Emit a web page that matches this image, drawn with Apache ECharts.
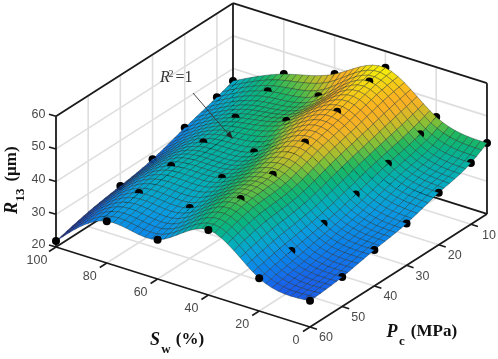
<!DOCTYPE html>
<html><head><meta charset="utf-8">
<script src="https://cdn.jsdelivr.net/npm/echarts@6/dist/echarts.min.js"></script>
<style>html,body{margin:0;padding:0;background:#fff}#c{width:498px;height:359px}</style>
</head><body><div id="c"></div>
<script>
const swLevels = [0, 20, 40, 60, 80, 100];
const pcLevels = [5, 10, 20, 30, 40, 50, 60];
const r13AtPc5  = [41.7, 44.8, 54.9, 48.1, 43.2, 36.2];
const r13AtPc10 = [38.7, 42.6, 53.9, 44.5, 41.1, 34.4];
const r13AtPc20 = [35.9, 39.9, 50.9, 43.2, 39.3, 31.3];
const r13AtPc30 = [32.8, 36.8, 47.8, 39.9, 38.0, 28.0];
const r13AtPc40 = [31.0, 34.1, 44.2, 38.3, 37.1, 26.1];
const r13AtPc50 = [29.0, 32.1, 43.1, 35.4, 35.1, 24.4];
const r13AtPc60 = [28.0, 30.0, 39.9, 32.0, 32.8, 21.8];
const swTicks = [0, 20, 40, 60, 80, 100];
const pcTicks = [10, 20, 30, 40, 50, 60];
const zTicks = [20, 30, 40, 50, 60];
const colorStops = [[21,'#1a1a8c'],[25,'#1c3cc8'],[28,'#1a60ea'],[31,'#0c80ea'],[34,'#0a9ce0'],[37,'#02aebc'],[40,'#08b484'],[42,'#22b85e'],[44,'#80c038'],[46,'#c8bc28'],[48,'#f0b424'],[50,'#fbb022'],[52,'#f6c21a'],[54,'#f2e010'],[56,'#ffff00']];

const rows = [r13AtPc5, r13AtPc10, r13AtPc20, r13AtPc30, r13AtPc40, r13AtPc50, r13AtPc60];
const SW_CELLS = 40, PC_CELLS = 33;

// orthographic view of the 3D box
function proj(sw, pc, z) {
  return [310 - 2.54 * sw + 3.218 * (60 - pc),
          327 - 0.8 * sw - 2.055 * (60 - pc) - 3.27 * (z - 20)];
}
// natural cubic spline through the measured points, to draw the smooth fitted surface
function splineFn(xs, ys) {
  const n = xs.length, m = new Array(n).fill(0), c = new Array(n).fill(0), d = new Array(n).fill(0);
  for (let i = 1; i < n - 1; i++) {
    const h0 = xs[i] - xs[i-1], h1 = xs[i+1] - xs[i];
    const b = 2 * (h0 + h1), r = 6 * ((ys[i+1]-ys[i])/h1 - (ys[i]-ys[i-1])/h0);
    const w = b - h0 * c[i-1];
    c[i] = h1 / w; d[i] = (r - h0 * d[i-1]) / w;
  }
  for (let i = n - 2; i > 0; i--) m[i] = d[i] - c[i] * m[i+1];
  return x => {
    let i = 0; while (i < n - 2 && x > xs[i+1]) i++;
    const h = xs[i+1] - xs[i], a = (xs[i+1]-x)/h, b = (x-xs[i])/h;
    return a*ys[i] + b*ys[i+1] + ((a*a*a-a)*m[i] + (b*b*b-b)*m[i+1])*h*h/6;
  };
}
const rowFns = rows.map(r => splineFn(swLevels, r));
function surfaceColumn(sw) { return splineFn(pcLevels, rowFns.map(f => f(sw))); }
function hex(c){return [1,3,5].map(i=>parseInt(c.substr(i,2),16));}
function colorOf(z) {
  if (z <= colorStops[0][0]) return colorStops[0][1];
  for (let i = 1; i < colorStops.length; i++) if (z <= colorStops[i][0]) {
    const t = (z-colorStops[i-1][0])/(colorStops[i][0]-colorStops[i-1][0]);
    const a = hex(colorStops[i-1][1]), b = hex(colorStops[i][1]);
    return 'rgb('+a.map((v,k)=>Math.round(v+(b[k]-v)*t)).join(',')+')';
  }
  return colorStops[colorStops.length-1][1];
}

const scene = [];
const AX = '#1a1a1a', GRID = '#dedede', TICKTXT = '#4a4a4a';
const line = (p, q, stroke, w) => scene.push({k:'line', p, q, stroke, w});
const text = (x, y, t, font, fill, o) => scene.push(Object.assign({k:'text', x, y, t, font, fill}, o||{}));

// grids on floor and two back walls
swTicks.filter(s=>s>0&&s<100).forEach(s => {
  line(proj(s,60,20), proj(s,5,20), GRID, 1.6);
  line(proj(s,5,20), proj(s,5,60), GRID, 1.6);
});
pcTicks.filter(p=>p<60).forEach(p => {
  line(proj(0,p,20), proj(100,p,20), GRID, 1.6);
  line(proj(100,p,20), proj(100,p,60), GRID, 1.6);
});
zTicks.filter(z=>z>20&&z<60).forEach(z => {
  line(proj(100,60,z), proj(100,5,z), GRID, 1.6);
  line(proj(100,5,z), proj(0,5,z), GRID, 1.6);
});
// box
[[[100,60,20],[100,60,60]],[[100,5,20],[100,5,60]],[[0,5,20],[0,5,60]],
 [[100,60,60],[100,5,60]],[[100,5,60],[0,5,60]],
 [[100,60,20],[0,60,20]],[[0,60,20],[0,5,20]],[[100,60,20],[100,5,20]],[[100,5,20],[0,5,20]]]
 .forEach(e => line(proj.apply(null,e[0]), proj.apply(null,e[1]), AX, 1.8));
// ticks
zTicks.forEach(z => { const p = proj(100,60,z); line(p,[p[0]-7,p[1]-2],AX,1.6); });
swTicks.forEach(s => { const p = proj(s,60,20); line(p,[p[0]-7,p[1]+4.5],AX,1.6); });
pcTicks.forEach(c => { const p = proj(0,c,20); line(p,[p[0]+7,p[1]+2.3],AX,1.6); });
// tick labels
const tf = '12.5px "Liberation Sans"';
zTicks.forEach(z => { const p = proj(100,60,z); text(p[0]-10.5,p[1]-2,String(z),tf,TICKTXT,{align:'right'}); });
swTicks.forEach(s => { const p = proj(s,60,20); text(p[0]-(s===100?19:s===0?14:17),p[1]+(s===100?14:13.5),String(s),tf,TICKTXT); });
pcTicks.forEach(c => { const p = proj(0,c,20); text(p[0]+(c===10?18:16),p[1]+11,String(c),tf,TICKTXT); });

// surface: quads and dots back to front
const nodes = [];
for (let i = 0; i <= SW_CELLS; i++) {
  const sw = 100 * i / SW_CELLS, col = surfaceColumn(sw), arr = [];
  for (let j = 0; j <= PC_CELLS; j++) { const pc = 5 + 55 * j / PC_CELLS; arr.push({sw, pc, z: col(pc)}); }
  nodes.push(arr);
}
const depth = (sw, pc) => 327 - 0.8 * sw - 2.055 * (60 - pc);
const surf = [];
for (let i = 0; i < SW_CELLS; i++) for (let j = 0; j < PC_CELLS; j++) {
  const a = nodes[i][j], b = nodes[i+1][j], c = nodes[i+1][j+1], d = nodes[i][j+1];
  const q = [a,b,c,d];
  surf.push({k:'quad', d: depth((a.sw+c.sw)/2,(a.pc+c.pc)/2),
    pts: q.map(n=>proj(n.sw,n.pc,n.z)), fill: colorOf((a.z+b.z+c.z+d.z)/4)});
}
rows.forEach((r, j) => r.forEach((z, i) => {
  if (swLevels[i] === 100 && pcLevels[j] === 50) return; // this dot is not visible in the reference
  surf.push({k:'dot', d: depth(swLevels[i],pcLevels[j]), p: proj(swLevels[i],pcLevels[j],z)});
}));
surf.sort((u,v)=>u.d-v.d).forEach(s=>scene.push(s));

// axis titles
const tb = 'italic bold 18px "Liberation Serif"', rb='bold 17px "Liberation Serif"', sb='bold 13px "Liberation Serif"';
text(155,340,'S',tb,'#111'); text(166,350,'w',sb,'#111'); text(190,340,'(%)',rb,'#111');
text(392,332,'P',tb,'#111'); text(402,342,'c',sb,'#111'); text(434,332,'(MPa)',rb,'#111');
const rot = {rotation: Math.PI/2};
text(12,208,'R',tb,'#111',rot); text(21,195,'13',sb,'#111',rot); text(12,164,'(\u03bcm)',rb,'#111',rot);
// annotation
text(165,78,'R','italic 16px "Liberation Serif"','#333'); text(171,74,'2','10px "Liberation Serif"','#333');
text(184,78,'=1','16px "Liberation Serif"','#333');
line([193,93],[230,136],'#333',0.9);
scene.push({k:'poly', pts:[[233,139],[226,135],[230,131]], fill:'#222'});

const chart = echarts.init(document.getElementById('c'), null, {renderer:'canvas'});
chart.setOption({
  animation:false,
  grid:{left:0,right:0,top:0,bottom:0},
  xAxis:{type:'value',min:0,max:498,show:false},
  yAxis:{type:'value',min:0,max:359,inverse:true,show:false},
  series:[{type:'custom',coordinateSystem:'cartesian2d',clip:false,silent:true,progressive:0,
    data:scene.map((_,i)=>[i,0]),
    renderItem(params, api){
      const s = scene[params.dataIndex], C = p => api.coord(p);
      if (s.k==='line'){const a=C(s.p),b=C(s.q);return {type:'line',shape:{x1:a[0],y1:a[1],x2:b[0],y2:b[1]},style:{stroke:s.stroke,lineWidth:s.w}};}
      if (s.k==='quad') return {type:'polygon',shape:{points:s.pts.map(C)},style:{fill:s.fill,stroke:'rgba(20,30,30,0.5)',lineWidth:0.7}};
      if (s.k==='poly') return {type:'polygon',shape:{points:s.pts.map(C)},style:{fill:s.fill}};
      if (s.k==='dot'){const a=C(s.p);return {type:'circle',shape:{cx:a[0],cy:a[1],r:4},style:{fill:'#000'}};}
      const a=C([s.x,s.y]);
      return {type:'text',x:a[0],y:a[1],rotation:s.rotation||0,
        style:{text:s.t,font:s.font,fill:s.fill,align:s.align||'center',verticalAlign:'middle'}};
    }}]
});
</script></body></html>
